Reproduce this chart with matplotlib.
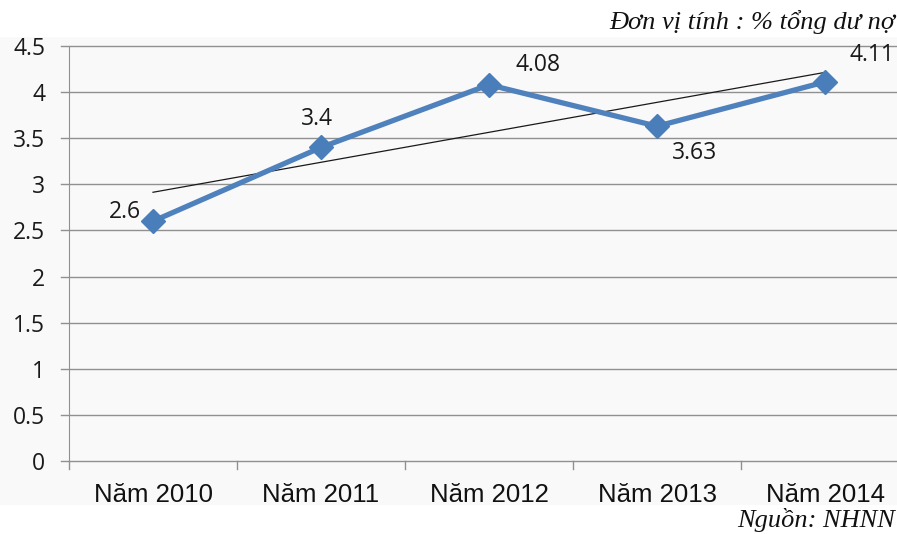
import matplotlib.pyplot as plt
import numpy as np

years = ["Năm 2010", "Năm 2011", "Năm 2012", "Năm 2013", "Năm 2014"]
ratio = [2.6, 3.4, 4.08, 3.63, 4.11]
label_text = ["2.6", "3.4", "4.08", "3.63", "4.11"]
yticks = [0, 0.5, 1, 1.5, 2, 2.5, 3, 3.5, 4, 4.5]

W, H = 897, 534
fig = plt.figure(figsize=(W / 100, H / 100), dpi=100)
fig.patch.set_facecolor('white')

# light grey chart area
bg = fig.add_axes([0, 1 - 505 / H, 1, (505 - 37) / H])
bg.set_facecolor('#f9f9f9')
bg.set_xticks([])
bg.set_yticks([])
for s in bg.spines.values():
    s.set_visible(False)

# plot area (right edge runs past the cropped picture)
x0, x1 = 69, 909
y0, y1 = 461, 46
ax = fig.add_axes([x0 / W, 1 - y0 / H, (x1 - x0) / W, (y0 - y1) / H])
ax.set_facecolor('none')

x = np.arange(len(years))
ax.set_xlim(-0.5, len(years) - 0.5)
ax.set_ylim(0, 4.5)

for v in yticks:
    ax.plot([-0.55, 5], [v, v], color='#909090', linewidth=1.0, clip_on=False, zorder=1)

# trend line
k, b = np.polyfit(x, ratio, 1)
ax.plot([x[0], x[-1]], [k * x[0] + b, k * x[-1] + b], color='#1a1a1a', linewidth=0.9, zorder=2)

ax.plot(x, ratio, color='#4f81bd', linewidth=3.8, marker='D', markersize=12,
        markerfacecolor='#4a7ebb', markeredgecolor='#4a7ebb', zorder=3, clip_on=False)

offsets = [(-28, 9), (-4, 28), (49, 20), (38, -27), (47, 27)]
for xi, yi, t, (dx, dy) in zip(x, ratio, label_text, offsets):
    ax.annotate(t, (xi, yi), xytext=(dx, dy), textcoords='offset pixels',
                ha='center', va='center', fontsize=16.5, family='Open Sans', color='#1a1a1a')

for s in ['top', 'right', 'bottom']:
    ax.spines[s].set_visible(False)
ax.spines['left'].set_color('#909090')

ax.set_yticks(yticks)
ax.set_yticklabels(["0", "0.5", "1", "1.5", "2", "2.5", "3", "3.5", "4", "4.5"],
                   fontsize=16.5, family='Open Sans', color='#1a1a1a')
ax.tick_params(axis='y', length=0, pad=17)

ax.set_xticks(x)
ax.set_xticklabels(years, fontsize=18.5, family='Liberation Sans', color='#111111')
ax.tick_params(axis='x', length=0, pad=16)
for b_ in np.arange(-0.5, len(years), 1.0):
    ax.plot([b_, b_], [0, -0.09], color='#909090', linewidth=1.0, clip_on=False)

fig.text(895 / W, 1 - 22 / H, "Đơn vị tính : % tổng dư nợ", ha='right', va='center',
         fontsize=19, family='Liberation Serif', style='italic', color='#111111')
fig.text(895 / W, 1 - 520 / H, "Nguồn: NHNN", ha='right', va='center',
         fontsize=19, family='Liberation Serif', style='italic', color='#111111')

fig.savefig('out.png', dpi=100)
